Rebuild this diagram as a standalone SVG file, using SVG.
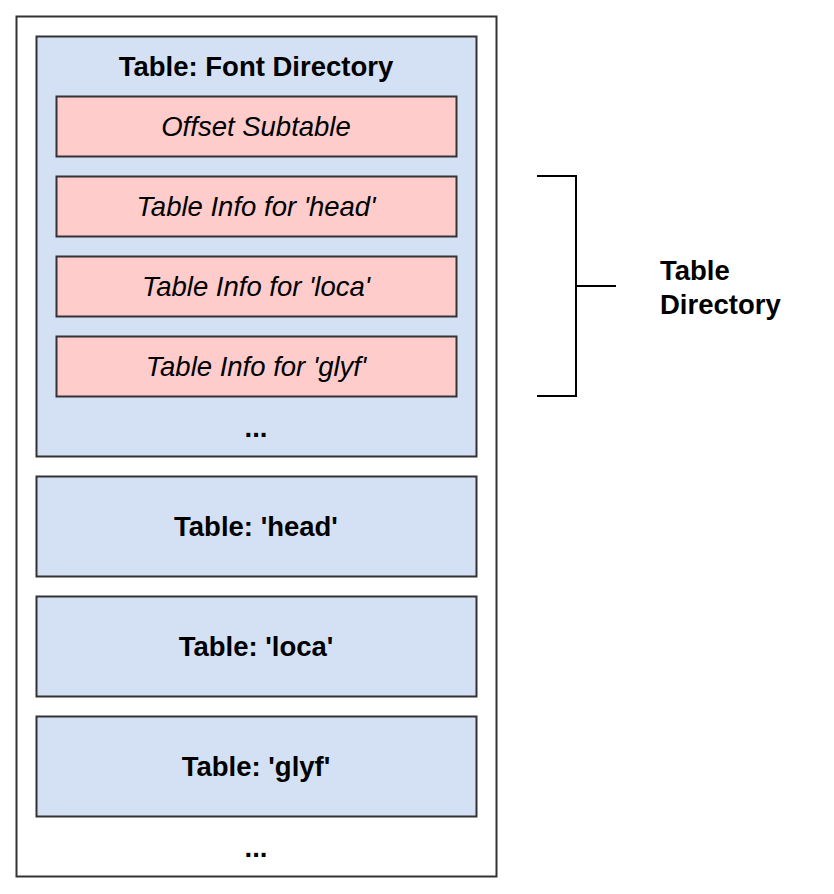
<svg xmlns="http://www.w3.org/2000/svg" width="834" height="894" viewBox="0 0 834 894">
<style>
.box{stroke:#333333;stroke-width:2}
.outer{fill:#ffffff}
.blue{fill:#d4e1f5}
.pink{fill:#ffcccc}
text{font-family:"Liberation Sans",Arial,Helvetica,sans-serif;font-size:27.5px;fill:#000;text-anchor:middle}
.b{font-weight:bold}
.i{font-style:italic}
.line{stroke:#000;stroke-width:2;fill:none}
</style>
<rect width="834" height="894" fill="#ffffff"/>
<g id="font-file">
<rect class="box outer" x="16.5" y="16.5" width="480" height="860"/>
<text class="b" x="256" y="857">...</text>
</g>
<g id="font-directory">
<rect class="box blue" x="36.5" y="36.5" width="440" height="420"/>
<text class="b" x="256" y="76">Table: Font Directory</text>
<text class="b" x="256" y="437">...</text>
</g>
<g id="offset-subtable">
<rect class="box pink" x="56.5" y="96.5" width="400" height="60"/>
<text class="i" x="256" y="136">Offset Subtable</text>
</g>
<g id="info-head">
<rect class="box pink" x="56.5" y="176.5" width="400" height="60"/>
<text class="i" x="256" y="216">Table Info for 'head'</text>
</g>
<g id="info-loca">
<rect class="box pink" x="56.5" y="256.5" width="400" height="60"/>
<text class="i" x="256" y="296">Table Info for 'loca'</text>
</g>
<g id="info-glyf">
<rect class="box pink" x="56.5" y="336.5" width="400" height="60"/>
<text class="i" x="256" y="376">Table Info for 'glyf'</text>
</g>
<g id="table-head">
<rect class="box blue" x="36.5" y="476.5" width="440" height="100"/>
<text class="b" x="256" y="536">Table: 'head'</text>
</g>
<g id="table-loca">
<rect class="box blue" x="36.5" y="596.5" width="440" height="100"/>
<text class="b" x="256" y="656">Table: 'loca'</text>
</g>
<g id="table-glyf">
<rect class="box blue" x="36.5" y="716.5" width="440" height="100"/>
<text class="b" x="256" y="776">Table: 'glyf'</text>
</g>
<g id="connectors">
<path class="line" d="M537 176 H576 V396 H537 M576 286 H616"/>
</g>
<g id="label-table-directory">
<text class="b" x="660" y="280" style="text-anchor:start">Table</text>
<text class="b" x="660" y="314" style="text-anchor:start">Directory</text>
</g>
</svg>
